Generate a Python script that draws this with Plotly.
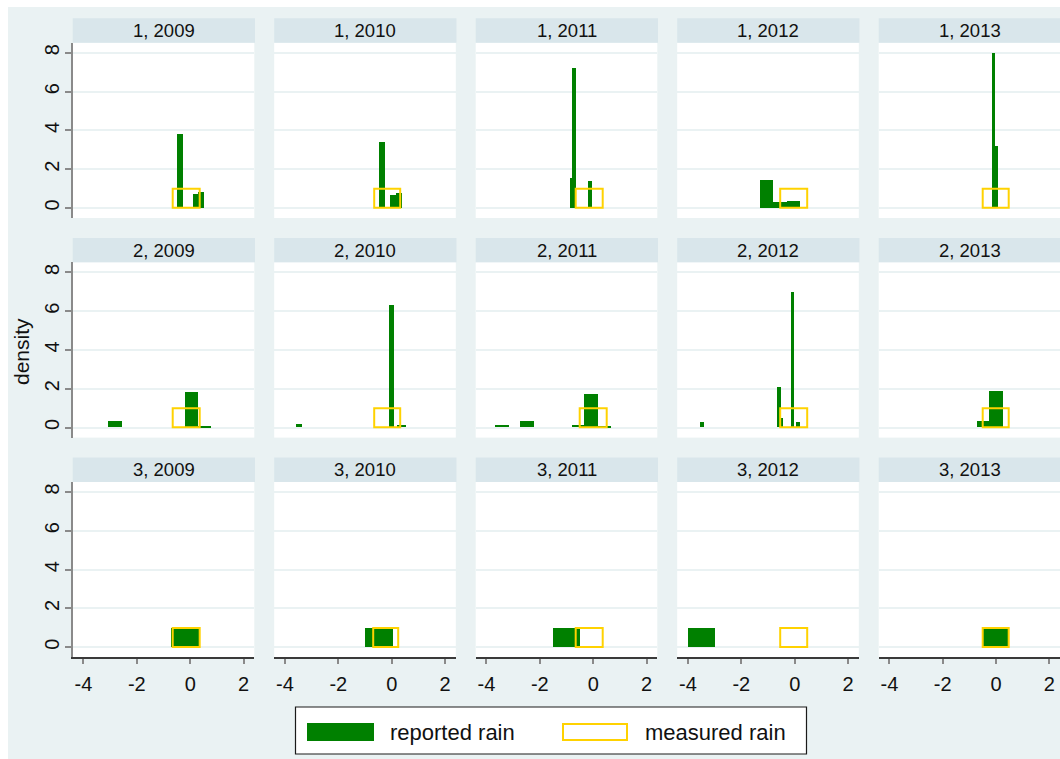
import plotly.graph_objects as go

# ---- data -------------------------------------------------------------
REGIONS = [1, 2, 3]
YEARS = [2009, 2010, 2011, 2012, 2013]

# reported rain: one entry per histogram bin (region, year, bin edges, density)
rep_region = [1, 1, 1,
              1, 1, 1,
              1, 1, 1,
              1, 1, 1,
              1, 1,
              2, 2, 2,
              2, 2, 2,
              2, 2, 2, 2, 2,
              2, 2, 2, 2, 2,
              2, 2,
              3, 3, 3, 3, 3]
rep_year = [2009, 2009, 2009,
            2010, 2010, 2010,
            2011, 2011, 2011,
            2012, 2012, 2012,
            2013, 2013,
            2009, 2009, 2009,
            2010, 2010, 2010,
            2011, 2011, 2011, 2011, 2011,
            2012, 2012, 2012, 2012, 2012,
            2013, 2013,
            2009, 2010, 2011, 2012, 2013]
rep_lo = [-0.51, 0.09, 0.29,
          -0.46, -0.05, 0.16,
          -0.87, -0.79, -0.20,
          -1.30, -0.79, -0.29,
          -0.15, -0.04,
          -3.09, -0.20, 0.28,
          -3.58, -0.11, 0.21,
          -3.68, -2.76, -0.81, -0.35, 0.15,
          -3.53, -0.64, -0.51, -0.14, 0.06,
          -0.73, -0.26,
          -0.72, -0.98, -1.53, -3.99, -0.50]
rep_hi = [-0.27, 0.29, 0.50,
          -0.25, 0.16, 0.40,
          -0.79, -0.66, -0.07,
          -0.79, -0.29, 0.21,
          -0.04, 0.07,
          -2.57, 0.28, 0.76,
          -3.37, 0.09, 0.54,
          -3.17, -2.23, -0.35, 0.15, 0.65,
          -3.39, -0.52, -0.42, -0.01, 0.19,
          -0.26, 0.26,
          0.33, 0.04, -0.49, -2.96, 0.48]
rep_density = [3.84, 0.74, 0.83,
               3.41, 0.66, 0.76,
               1.55, 7.21, 1.38,
               1.43, 0.30, 0.35,
               8.02, 3.20,
               0.33, 1.83, 0.08,
               0.17, 6.28, 0.12,
               0.14, 0.31, 0.14, 1.71, 0.08,
               0.28, 2.06, 0.45, 6.98, 0.28,
               0.31, 1.87,
               1.00, 1.00, 1.00, 1.00, 1.00]

# measured rain: a single bin per panel
meas_region = [1, 1, 1, 1, 1, 2, 2, 2, 2, 2, 3, 3, 3, 3, 3]
meas_year = [2009, 2010, 2011, 2012, 2013,
             2009, 2010, 2011, 2012, 2013,
             2009, 2010, 2011, 2012, 2013]
meas_lo = [-0.66, -0.67, -0.65, -0.54, -0.51,
           -0.66, -0.67, -0.51, -0.54, -0.51,
           -0.66, -0.70, -0.64, -0.55, -0.50]
meas_hi = [0.34, 0.33, 0.36, 0.45, 0.49,
           0.34, 0.33, 0.50, 0.45, 0.49,
           0.36, 0.26, 0.35, 0.46, 0.48]
meas_density = [1.0, 1.0, 1.0, 1.0, 1.0,
                1.0, 1.0, 1.0, 1.0, 1.0,
                1.0, 1.0, 1.0, 1.0, 1.0]

X_TICKS = [-4, -2, 0, 2]
X_TICKTEXT = ["-4", "-2", "0", "2"]
Y_TICKS = [0, 2, 4, 6, 8]
Y_TICKTEXT = ["0", "2", "4", "6", "8"]

SERIES_NAMES = ["reported rain", "measured rain"]
Y_TITLE = "density"

# ---- styling ----------------------------------------------------------
W, H = 1060, 759
GREEN = "#008000"
YELLOW = "#FFD200"
BG = "#EAF2F3"
STRIP = "#D9E6EB"
FONT = "Liberation Sans, Arial, sans-serif"
TICK_FONT = dict(size=20, color="#111111", family=FONT)

X_RANGE = [-4.4, 2.4]
Y_RANGE = [-0.52, 8.52]

COL_LEFT0, COL_PITCH, COL_W = 72.7, 201.5, 181.6
ROW_TOP0, ROW_PITCH, ROW_H = 42.7, 219.6, 175.3
STRIP_H = 24.4


def fx(px):
    return min(max(px / W, 0.0), 1.0)


def fy(px):
    return min(max(1 - px / H, 0.0), 1.0)


fig = go.Figure()
shapes = []
annotations = []

for r, reg in enumerate(REGIONS):
    for c, yr in enumerate(YEARS):
        k = r * 5 + c + 1
        xa = "x" if k == 1 else f"x{k}"
        ya = "y" if k == 1 else f"y{k}"
        left = COL_LEFT0 + c * COL_PITCH
        right = left + COL_W
        top = ROW_TOP0 + r * ROW_PITCH
        bottom = top + ROW_H

        # reported rain bars
        idx = [i for i in range(len(rep_region))
               if rep_region[i] == reg and rep_year[i] == yr]
        fig.add_trace(go.Bar(
            x=[(rep_lo[i] + rep_hi[i]) / 2 for i in idx],
            y=[rep_density[i] for i in idx],
            width=[rep_hi[i] - rep_lo[i] for i in idx],
            base=0,
            marker=dict(color=GREEN, line=dict(width=0)),
            xaxis=xa, yaxis=ya, showlegend=False, hoverinfo="skip",
            name=SERIES_NAMES[0],
        ))
        # measured rain outline
        idm = [i for i in range(len(meas_region))
               if meas_region[i] == reg and meas_year[i] == yr]
        fig.add_trace(go.Bar(
            x=[(meas_lo[i] + meas_hi[i]) / 2 for i in idm],
            y=[meas_density[i] for i in idm],
            width=[meas_hi[i] - meas_lo[i] for i in idm],
            base=0,
            marker=dict(color="rgba(0,0,0,0)", line=dict(color=YELLOW, width=2)),
            xaxis=xa, yaxis=ya, showlegend=False, hoverinfo="skip",
            name=SERIES_NAMES[1],
        ))

        bottom_row = r == len(REGIONS) - 1
        first_col = c == 0
        fig.update_layout({
            ("xaxis" if k == 1 else f"xaxis{k}"): dict(
                domain=[fx(left), fx(right)], anchor=ya, range=X_RANGE,
                showgrid=False, zeroline=False, fixedrange=True,
                tickmode="array", tickvals=X_TICKS, ticktext=X_TICKTEXT,
                showticklabels=bottom_row,
                ticks="outside" if bottom_row else "",
                ticklen=5, tickwidth=1.5, tickcolor="#8a8a8a",
                showline=bottom_row, linecolor="#3a3a3a", linewidth=1.5,
                tickfont=TICK_FONT, ticklabelstandoff=3,
            ),
            ("yaxis" if k == 1 else f"yaxis{k}"): dict(
                domain=[fy(bottom), fy(top)], anchor=xa, range=Y_RANGE,
                showgrid=True, gridcolor=BG, gridwidth=1.6,
                zeroline=False, fixedrange=True,
                tickmode="array", tickvals=Y_TICKS, ticktext=Y_TICKTEXT,
                showticklabels=first_col,
                ticks="outside" if first_col else "",
                ticklen=6, tickwidth=1.5, tickcolor="#8a8a8a",
                showline=first_col, linecolor="#8a8a8a", linewidth=1.5,
                tickangle=-90,
                tickfont=TICK_FONT, ticklabelstandoff=-2,
            ),
        })

        # facet strip
        shapes.append(dict(
            type="rect", xref="paper", yref="paper",
            x0=fx(left), x1=fx(right + 0.7), y0=fy(top), y1=fy(top - STRIP_H),
            fillcolor=STRIP, line=dict(width=0), layer="below",
        ))
        annotations.append(dict(
            xref="paper", yref="paper", x=fx((left + right + 0.7) / 2),
            y=fy(top - STRIP_H / 2), text=f"{reg}, {yr}", showarrow=False,
            font=dict(size=18.5, color="#111111", family=FONT),
            xanchor="center", yanchor="middle",
        ))

# white margins at the top and left of the graph region
shapes.append(dict(type="rect", xref="paper", yref="paper",
                   x0=0, x1=1, y0=fy(7), y1=1,
                   fillcolor="white", line=dict(width=0), layer="below"))
shapes.append(dict(type="rect", xref="paper", yref="paper",
                   x0=0, x1=fx(8), y0=0, y1=1,
                   fillcolor="white", line=dict(width=0), layer="below"))

# legend box
shapes.append(dict(type="rect", xref="paper", yref="paper",
                   x0=fx(295.5), x1=fx(806.5), y0=fy(754), y1=fy(707),
                   fillcolor="white", line=dict(color="#1a1a1a", width=1.2)))
shapes.append(dict(type="rect", xref="paper", yref="paper",
                   x0=fx(307), x1=fx(374), y0=fy(741), y1=fy(723),
                   fillcolor=GREEN, line=dict(width=0)))
shapes.append(dict(type="rect", xref="paper", yref="paper",
                   x0=fx(563), x1=fx(627), y0=fy(740), y1=fy(724),
                   fillcolor="white", line=dict(color=YELLOW, width=2)))
annotations.append(dict(xref="paper", yref="paper", x=fx(388), y=fy(732),
                        text=SERIES_NAMES[0], showarrow=False,
                        xanchor="left", yanchor="middle",
                        font=dict(size=22, color="#111111", family=FONT)))
annotations.append(dict(xref="paper", yref="paper", x=fx(643), y=fy(732),
                        text=SERIES_NAMES[1], showarrow=False,
                        xanchor="left", yanchor="middle",
                        font=dict(size=22, color="#111111", family=FONT)))

# y axis title
annotations.append(dict(xref="paper", yref="paper", x=fx(21), y=fy(352),
                        text=Y_TITLE, textangle=-90, showarrow=False,
                        xanchor="center", yanchor="middle",
                        font=dict(size=21, color="#111111", family=FONT)))

fig.update_layout(
    width=W, height=H,
    margin=dict(l=0, r=0, t=0, b=0),
    paper_bgcolor=BG, plot_bgcolor="white",
    barmode="overlay", bargap=0,
    font=dict(family=FONT, size=20),
    shapes=shapes, annotations=annotations,
    showlegend=False,
)

fig.write_html("out.html")
